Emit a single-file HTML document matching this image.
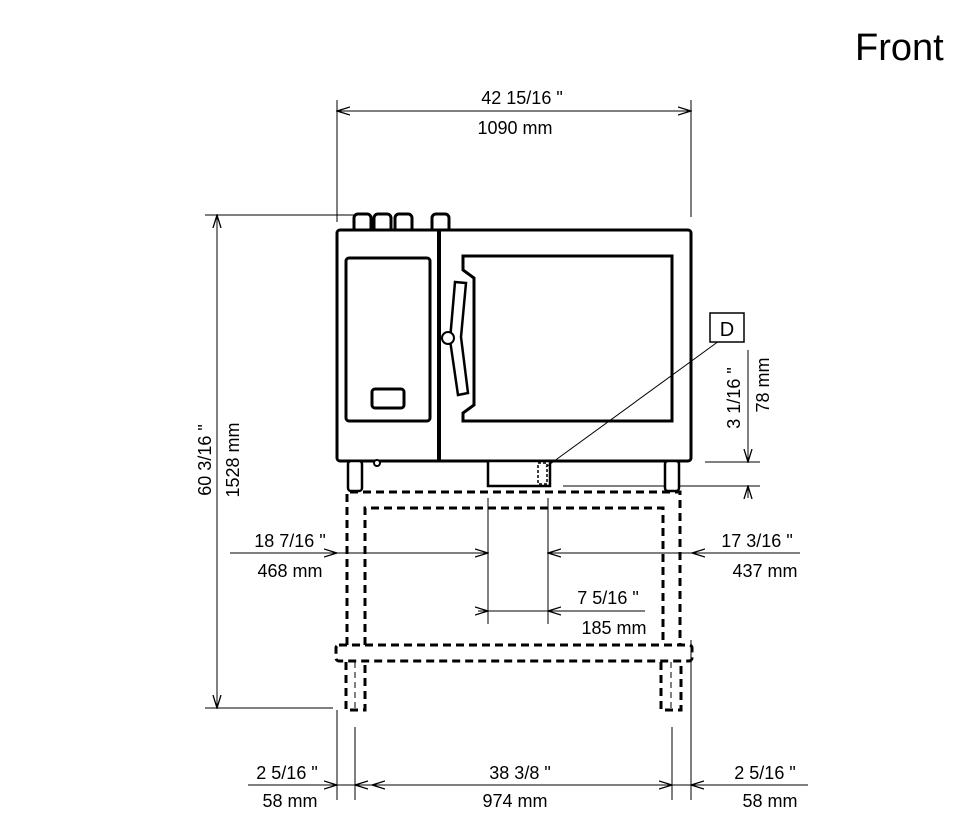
<!DOCTYPE html>
<html><head><meta charset="utf-8"><style>
html,body{margin:0;padding:0;background:#fff;}
svg{display:block;}
text{font-family:"Liberation Sans",sans-serif;fill:#000;}
.d{font-size:18px;font-family:"Liberation Sans Narrow","Liberation Sans",sans-serif;}
</style></head><body>
<svg width="971" height="839" viewBox="0 0 971 839" xmlns="http://www.w3.org/2000/svg">
<defs>
<marker id="a" markerWidth="14" markerHeight="10" refX="13" refY="5" orient="auto-start-reverse" markerUnits="userSpaceOnUse">
<path d="M0,1 L13,5 L0,9" fill="none" stroke="#000" stroke-width="1.3"/></marker>
</defs>
<text x="855" y="60" font-size="38">Front</text>

<g stroke="#000" stroke-width="1" fill="none">
<line x1="337" y1="100" x2="337" y2="222"/><line x1="691" y1="100" x2="691" y2="217"/>
<line x1="337" y1="111" x2="691" y2="111" marker-start="url(#a)" marker-end="url(#a)"/>
<line x1="205" y1="215" x2="356" y2="215"/><line x1="205" y1="708" x2="333" y2="708"/>
<line x1="217" y1="215" x2="217" y2="708" marker-start="url(#a)" marker-end="url(#a)"/>
<line x1="705" y1="462" x2="760" y2="462"/><line x1="563" y1="486" x2="760" y2="486"/>
<line x1="748" y1="440" x2="748" y2="462" marker-end="url(#a)"/>
<line x1="748" y1="498" x2="748" y2="486" marker-end="url(#a)"/>
<line x1="748" y1="350" x2="748" y2="440"/>
<line x1="230" y1="553" x2="337" y2="553" marker-end="url(#a)"/>
<line x1="337" y1="553" x2="488" y2="553" marker-end="url(#a)"/>
<line x1="692" y1="553" x2="548" y2="553" marker-end="url(#a)"/>
<line x1="800" y1="553" x2="692" y2="553" marker-end="url(#a)"/>
<line x1="488" y1="498" x2="488" y2="624"/><line x1="548" y1="498" x2="548" y2="624"/>
<line x1="337" y1="710" x2="337" y2="800"/>
<line x1="691" y1="640" x2="691" y2="800"/>
<line x1="478" y1="611" x2="488" y2="611" marker-end="url(#a)"/>
<line x1="645" y1="611" x2="548" y2="611" marker-end="url(#a)"/>
<line x1="488" y1="611" x2="548" y2="611"/>
<line x1="355" y1="727" x2="355" y2="800"/><line x1="672" y1="727" x2="672" y2="800"/>
<line x1="248" y1="785" x2="337" y2="785" marker-end="url(#a)"/>
<line x1="337" y1="785" x2="355" y2="785"/>
<line x1="372" y1="785" x2="355" y2="785" marker-end="url(#a)"/>
<line x1="372" y1="785" x2="672" y2="785" marker-start="url(#a)" marker-end="url(#a)"/>
<line x1="691" y1="785" x2="672" y2="785"/>
<line x1="808" y1="785" x2="691" y2="785" marker-end="url(#a)"/>
</g>

<g stroke="#000" stroke-width="3" fill="#fff">
<rect x="354" y="214" width="17" height="18" rx="4"/><rect x="374" y="214" width="17" height="18" rx="4"/><rect x="395" y="214" width="17" height="18" rx="4"/><rect x="432" y="214" width="17" height="18" rx="4"/>
<rect x="337" y="230" width="354" height="231" rx="3"/>
<line x1="439" y1="230" x2="439" y2="461" stroke-width="4"/>
<rect x="346" y="258" width="84" height="163" rx="3"/>
<rect x="372" y="389" width="32" height="19" rx="3"/>
<path d="M463,256 H672 V421 H463 V413 L474,405 V278 L463,270 Z"/>
<path d="M455,282 L466,283 L461,337 L468,393 L458,395 L450,340 Z" stroke-width="2.5"/>
<circle cx="448" cy="338" r="6" stroke-width="2"/>
<rect x="488" y="461" width="62" height="25" stroke-width="2.5"/>
<rect x="348" y="461" width="14" height="30" rx="3" stroke-width="2.5"/>
<rect x="665" y="461" width="14" height="30" rx="3" stroke-width="2.5"/>
<circle cx="377" cy="463" r="3" stroke-width="2"/>
</g>
<rect x="538" y="463" width="9" height="21" stroke="#000" stroke-width="1.5" stroke-dasharray="3,2" fill="none"/>
<line x1="546" y1="467" x2="719" y2="341" stroke="#000" stroke-width="1"/>

<g stroke="#000" stroke-width="3" fill="none" stroke-dasharray="8,5">
<path d="M347,645 V492 H680 V645"/>
<path d="M365,645 V508 H663 V645"/>
<rect x="336" y="645" width="356" height="16" rx="3"/>
<path d="M346,662 V710 H365 V662"/><path d="M661,662 V710 H681 V662"/>
</g>
<g stroke="#000" stroke-width="1" stroke-dasharray="6,4"><line x1="355" y1="662" x2="355" y2="710"/><line x1="671" y1="662" x2="671" y2="710"/></g>

<rect x="710" y="313" width="34" height="29" fill="#fff" stroke="#000" stroke-width="1.5"/>
<text x="727" y="336" font-size="20" text-anchor="middle">D</text>

<g class="d" text-anchor="middle">
<text x="522" y="104">42  15/16  "</text>
<text x="515" y="134">1090 mm</text>
<text x="290" y="547">18  7/16  "</text>
<text x="290" y="577">468 mm</text>
<text x="757" y="547">17  3/16  "</text>
<text x="765" y="577">437 mm</text>
<text x="608" y="604">7  5/16  "</text>
<text x="614" y="634">185 mm</text>
<text x="287" y="779">2  5/16  "</text>
<text x="290" y="807">58 mm</text>
<text x="520" y="779">38  3/8  "</text>
<text x="515" y="807">974 mm</text>
<text x="765" y="779">2  5/16  "</text>
<text x="770" y="807">58 mm</text>
<text transform="translate(211,460) rotate(-90)">60  3/16  "</text>
<text transform="translate(239,460) rotate(-90)">1528 mm</text>
<text transform="translate(740,398) rotate(-90)">3  1/16  "</text>
<text transform="translate(769,385) rotate(-90)">78 mm</text>
</g>
</svg>
</body></html>
